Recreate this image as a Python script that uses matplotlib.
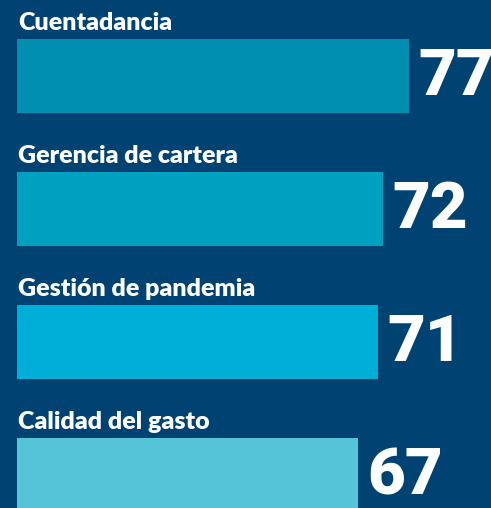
import matplotlib
matplotlib.use("Agg")
import matplotlib.pyplot as plt

categories = ["Cuentadancia", "Gerencia de cartera", "Gestión de pandemia", "Calidad del gasto"]
values = [77, 72, 71, 67]
bar_colors = ["#008fb0", "#00a0c0", "#00afd8", "#55c4d9"]
bg = "#004373"

fig = plt.figure(figsize=(4.91, 5.08), dpi=100, facecolor=bg)
ax = fig.add_axes([0, 0, 1, 1])
ax.set_facecolor(bg)

px_per_unit = 5.09
ax.set_xlim(-17 / px_per_unit, (491 - 17) / px_per_unit)
spacing = 133.0
ax.set_ylim((508 - 76) / spacing, -76 / spacing)

ypos = list(range(len(categories)))
ax.barh(ypos, values, height=74 / spacing, color=bar_colors, left=0)

for y, cat, v in zip(ypos, categories, values):
    ax.annotate(cat, xy=(0, y - 37 / spacing), xytext=(1, 9), textcoords="offset pixels",
                ha="left", va="baseline", color="white", fontsize=18,
                fontweight="heavy", family=["Lato", "DejaVu Sans"])
    ax.annotate(str(v), xy=(v, y), xytext=(9, -1), textcoords="offset pixels",
                ha="left", va="center", color="white", fontsize=47,
                fontweight=900, family=["Roboto", "DejaVu Sans"])

ax.axis("off")
fig.savefig("out.png", dpi=100, facecolor=bg)
